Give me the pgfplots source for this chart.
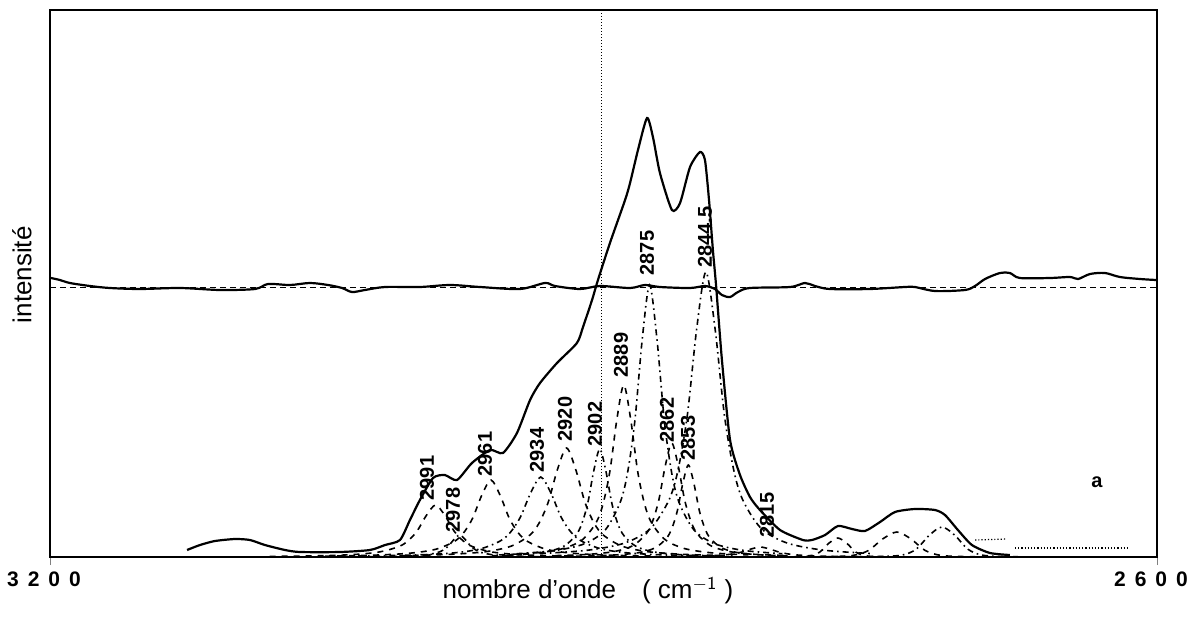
\documentclass[border=0pt]{standalone}
\usepackage{fontspec}
\setmainfont{Liberation Sans}
\usepackage{pgfplots}
\pgfplotsset{compat=1.18}
\newcommand{\pk}{\fontsize{10}{12}\selectfont\bfseries}
\begin{document}
\begin{tikzpicture}
\useasboundingbox (0,0) rectangle (599pt,308.5pt);
\begin{axis}[
  at={(25pt,30pt)}, anchor=south west,
  scale only axis, width=553.5pt, height=273.5pt,
  xmin=2600, xmax=3200, ymin=0, ymax=547,
  x dir=reverse, clip=false,
  axis line style={line width=1pt},
  xtick={3200,2600}, ytick=\empty,
  xticklabels={{3\hspace{4.5pt}2\hspace{4.5pt}0\hspace{4.5pt}0},{2\hspace{4.5pt}6\hspace{4.5pt}0\hspace{4.5pt}0}},
  xticklabel style={font=\fontsize{10.5}{12}\selectfont\bfseries, xshift=-3pt},
  tick align=outside, major tick length=4pt, tick pos=bottom,
  xlabel={nombre d'onde\quad( cm$^{\mathsf{-1}}$ )},
  xlabel style={font=\fontsize{13}{15}\selectfont, at={(axis description cs:0.486,-0.036)}, anchor=north, inner sep=0pt},
  ylabel={intensité},
  ylabel style={font=\fontsize{13}{15}\selectfont, at={(axis description cs:-0.0253,0.516)}, anchor=center, inner sep=0pt},
  comp/.style={line width=0.8pt, smooth},
]
% residual baseline and residual
\addplot[line width=0.5pt, dash pattern=on 3pt off 2pt] coordinates {(3200,270) (2600,270)};
\addplot[line width=1.1pt, smooth] coordinates {
(3199.5,279) (3194.6,277) (3189.2,274) (3178.3,271) (3167.5,269) (3151.2,268) (3129.5,269) (3107.9,267) (3088.9,268) (3081.8,273) (3069.9,272) (3059.1,274) (3049.3,272) (3041.7,269) (3036.3,265) (3029.3,267) (3018.4,270) (2999.5,270) (2983.2,272) (2966.9,270) (2945.3,268) (2931.7,274) (2926.3,271) (2912.7,268) (2901.9,271) (2885.6,269) (2877.5,272) (2869.4,270) (2853.1,269) (2845.0,271) (2839.6,268) (2835.8,262) (2831.4,260) (2827.1,265) (2820.6,269) (2798.9,270) (2790.8,274) (2785.4,271) (2777.2,268) (2755.6,268) (2736.6,270) (2731.2,270) (2720.3,266) (2704.1,267) (2698.6,271) (2693.2,278) (2685.1,284) (2679.7,284) (2674.3,279) (2658.0,279) (2647.2,280) (2642.8,278) (2636.3,283) (2628.2,284) (2620.1,280) (2609.2,278) (2600.5,277)};
% vertical marker
\addplot[densely dotted, line width=0.5pt] coordinates {(2901,0) (2901,547)};
% envelope
\addplot[line width=1.1pt, smooth, tension=0.4] coordinates {
(3125.7,7) (3118.7,12) (3110.6,16) (3099.7,18) (3091.6,17) (3083.5,12) (3072.6,7) (3064.5,5) (3042.8,5) (3026.6,7) (3018.4,12) (3010.3,17) (3004.9,37) (2999.5,57) (2992.4,79) (2986.0,82) (2979.4,77) (2971.3,94) (2961.5,107) (2954.5,104) (2946.9,124) (2939.8,157) (2934.4,174) (2925.2,194) (2914.4,214) (2911.1,230) (2906.2,257) (2903.0,277) (2896.5,314) (2888.3,357) (2885.6,374) (2881.3,407) (2876.4,439) (2873.2,420) (2869.4,384) (2862.9,347) (2858.5,354) (2853.1,390) (2847.7,405) (2845.0,397) (2842.8,357) (2840.7,307) (2839.0,272) (2835.8,197) (2831.4,117) (2826.0,82) (2820.6,60) (2815.2,47) (2804.3,27) (2791.9,17) (2787.0,17) (2779.9,22) (2772.9,31) (2765.3,28) (2758.3,26) (2750.1,35) (2742.0,45) (2731.2,48) (2720.3,47) (2714.9,42) (2707.9,27) (2700.3,12) (2690.5,4) (2679.7,2)};
% experimental tail
\addplot[densely dotted, line width=0.6pt] coordinates {(2698.6,17) (2681.3,18)};
\addplot[densely dotted, line width=0.6pt] coordinates {(2677.0,9) (2614.6,9)};
% components
\addplot[comp, dashed] coordinates {(3081,0.6) (3055,1.2) (3035,2.5) (3021,5.2) (3011,10.4) (3006,16.0) (3001,26) (2996,41.6) (2991,52) (2986,41.6) (2981,26) (2976,16.0) (2971,10.4) (2961,5.2) (2947,2.5) (2927,1.2) (2901,0.6)};
\addplot[comp, dash dot] coordinates {(3032,0.3) (3016.4,0.5) (3004.4,1.1) (2996,2.2) (2990,4.4) (2987,6.8) (2984,11) (2981,17.6) (2978,22) (2975,17.6) (2972,11) (2969,6.8) (2966,4.4) (2960,2.2) (2951.6,1.1) (2939.6,0.5) (2924,0.3)};
\addplot[comp, dashed] coordinates {(3051,0.9) (3025,1.8) (3005,3.8) (2991,7.7) (2981,15.4) (2976,23.7) (2971,38.5) (2966,61.6) (2961,77) (2956,61.6) (2951,38.5) (2946,23.7) (2941,15.4) (2931,7.7) (2917,3.8) (2897,1.8) (2871,0.9)};
\addplot[comp, dash dot] coordinates {(3033,1.0) (3004.4,1.9) (2982.4,3.9) (2967,8) (2956,16) (2950.5,24.6) (2945,40) (2939.5,64) (2934,80) (2928.5,64) (2923,40) (2917.5,24.6) (2912,16) (2901,8) (2885.6,3.9) (2863.6,1.9) (2835,1.0)};
\addplot[comp, dashed] coordinates {(3010,1.3) (2984,2.6) (2964,5.3) (2950,10.9) (2940,21.8) (2935,33.6) (2930,54.5) (2925,87.2) (2920,109) (2915,87.2) (2910,54.5) (2905,33.6) (2900,21.8) (2890,10.9) (2876,5.3) (2856,2.6) (2830,1.3)};
\addplot[comp, dash dot] coordinates {(2960.5,1.3) (2943.6,2.6) (2930.6,5.3) (2921.5,10.8) (2915,21.6) (2911.75,33.3) (2908.5,54) (2905.25,86.4) (2902,108) (2898.75,86.4) (2895.5,54) (2892.25,33.3) (2889,21.6) (2882.5,10.8) (2873.4,5.3) (2860.4,2.6) (2843.5,1.3)};
\addplot[comp, dashed] coordinates {(2956.5,2.1) (2937,4.1) (2922,8.4) (2911.5,17.2) (2904,34.4) (2900.25,53) (2896.5,86) (2892.75,137.6) (2889,172) (2885.25,137.6) (2881.5,86) (2877.75,53) (2874,34.4) (2866.5,17.2) (2856,8.4) (2841,4.1) (2821.5,2.1)};
\addplot[comp, dash dot] coordinates {(2947,3.3) (2926.2,6.5) (2910.2,13.3) (2899,27.2) (2891,54.4) (2887,83.8) (2883,136) (2879,217.6) (2875,272) (2871,217.6) (2867,136) (2863,83.8) (2859,54.4) (2851,27.2) (2839.8,13.3) (2823.8,6.5) (2803,3.3)};
\addplot[comp, dashed] coordinates {(2926,1.4) (2907.8,2.7) (2893.8,5.6) (2884,11.4) (2877,22.8) (2873.5,35.1) (2870,57) (2866.5,91.2) (2863,114) (2859.5,91.2) (2856,57) (2852.5,35.1) (2849,22.8) (2842,11.4) (2832.2,5.6) (2818.2,2.7) (2800,1.4)};
\addplot[comp, dashed] coordinates {(2908,1.1) (2892.4,2.2) (2880.4,4.5) (2872,9.2) (2866,18.4) (2863,28.3) (2860,46) (2857,73.6) (2854,92) (2851,73.6) (2848,46) (2845,28.3) (2842,18.4) (2836,9.2) (2827.6,4.5) (2815.6,2.2) (2800,1.1)};
\addplot[comp, dash dot] coordinates {(2934.5,3.4) (2908.5,6.8) (2888.5,14.0) (2874.5,28.5) (2864.5,57) (2859.5,87.8) (2854.5,142.5) (2849.5,228) (2844.5,285) (2839.5,228) (2834.5,142.5) (2829.5,87.8) (2824.5,57) (2814.5,28.5) (2800.5,14.0) (2780.5,6.8) (2754.5,3.4)};
\addplot[comp, dashed] coordinates {(2905,0.1) (2879,0.2) (2859,0.5) (2845,1.0) (2835,2) (2830,3.1) (2825,5) (2820,8) (2815,10) (2810,8) (2805,5) (2800,3.1) (2795,2) (2785,1.0) (2771,0.5) (2751,0.2) (2725,0.1)};
\addplot[comp, dashed] coordinates {(2809.4,0) (2798.2,0.2) (2788.4,1.1) (2782.8,4.9) (2777.9,13.7) (2773,19) (2768.1,13.7) (2763.2,4.9) (2757.6,1.1) (2747.8,0.2) (2736.6,0)};
\addplot[comp, dashed] coordinates {(2798.2,0) (2780.6,0.3) (2765.2,1.5) (2756.4,6.5) (2748.7,18) (2741,25) (2733.3,18) (2725.6,6.5) (2716.8,1.5) (2701.4,0.3) (2683.8,0)};
\addplot[comp, dash dot] coordinates {(2768.5,0) (2752.5,0.4) (2738.5,1.8) (2730.5,7.8) (2723.5,21.6) (2716.5,30) (2709.5,21.6) (2702.5,7.8) (2694.5,1.8) (2680.5,0.4) (2664.5,0)};
% peak labels
\node[rotate=90, font=\pk] at (axis cs:2995.7,79) {2991};
\node[rotate=90, font=\pk] at (axis cs:2981.6,47) {2978};
\node[rotate=90, font=\pk] at (axis cs:2964.2,103) {2961};
\node[rotate=90, font=\pk] at (axis cs:2936.0,107) {2934};
\node[rotate=90, font=\pk] at (axis cs:2920.9,138) {2920};
\node[rotate=90, font=\pk] at (axis cs:2904.6,133) {2902};
\node[rotate=90, font=\pk] at (axis cs:2890.5,202) {2889};
\node[rotate=90, font=\pk] at (axis cs:2876.4,304) {2875};
\node[rotate=90, font=\pk] at (axis cs:2845.0,320) {2844.5};
\node[rotate=90, font=\pk] at (axis cs:2865.6,137) {2862};
\node[rotate=90, font=\pk] at (axis cs:2854.2,119) {2853};
\node[rotate=90, font=\pk] at (axis cs:2811.4,42) {2815};
\node[font=\pk] at (axis cs:2632.5,75) {a};
\end{axis}
\end{tikzpicture}
\end{document}
